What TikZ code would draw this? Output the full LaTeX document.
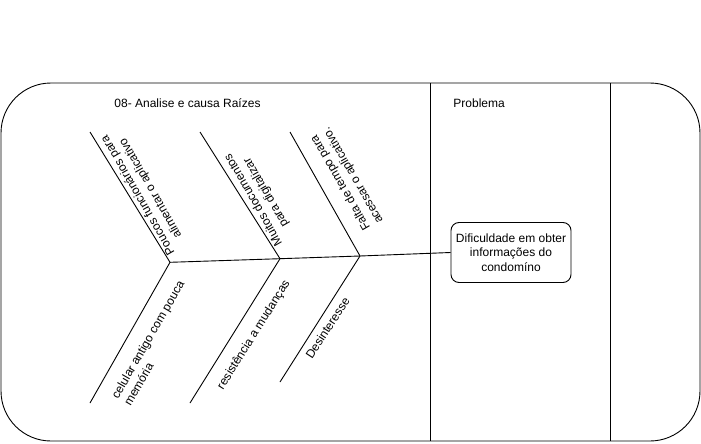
\documentclass[tikz,border=0pt]{standalone}
\usepackage{fontspec}
\setmainfont{Liberation Sans}
\usetikzlibrary{positioning}

\begin{document}
\begin{tikzpicture}[x=1pt,y=-1pt,line width=0.9pt]
      \tikzstyle{cause}=[inner sep=0pt,align=center,font=\fontsize{12}{14.5}\selectfont]
      \tikzstyle{problem}=[rectangle,rounded corners=8pt,draw=black,minimum width=120pt,minimum height=60pt,inner sep=0pt,align=center,font=\fontsize{12}{14.5}\selectfont]
      \tikzstyle{label}=[inner sep=0pt,anchor=west,font=\fontsize{12}{14.5}\selectfont]

      \useasboundingbox (0,0) rectangle (701,444);

      % frame and lanes
      \draw[rounded corners=50pt] (1,83) rectangle (700,441);
      \coordinate (lane1top) at (430,83);
      \coordinate (lane1bot) at (430,441);
      \coordinate (lane2top) at (610,83);
      \coordinate (lane2bot) at (610,441);
      \draw (lane1top) -- (lane1bot);
      \draw (lane2top) -- (lane2bot);

      \node[label](title) at (114,103) {08- Analise e causa Raízes};
      \node[label](head) at (453,103) {Problema};

      % head
      \node[problem](prob) at (511,252.5) {Dificuldade em obter\\informações do\\condomíno};

      % spine
      \coordinate (j1) at (170,262.3);
      \coordinate (j2) at (280,258.7);
      \coordinate (j3) at (360,256);
      \draw (j1) -- (j2) -- (j3) -- (prob.west);

      % bones
      \coordinate (u1) at (90,132);
      \coordinate (u2) at (200,132);
      \coordinate (u3) at (290,132);
      \coordinate (l1) at (90,403);
      \coordinate (l2) at (190,403);
      \coordinate (l3) at (280,382);
      \draw (u1) -- (j1) -- (l1);
      \draw (u2) -- (j2) -- (l2);
      \draw (u3) -- (j3) -- (l3);

      % causes
      \node[cause,rotate=120](c1) at (144.5,191.5) {Poucos funcionários para\\alimentar o aplicativo};
      \node[cause,rotate=120](c2) at (260,196) {Muitos documentos\\para digitalizar};
      \node[cause,rotate=120](c3) at (347,179) {Falta de tempo para\\acessar o aplicativo.};
      \node[cause,rotate=60,align=left](c4) at (154,343) {celular antigo com pouca\\memória};
      \node[cause,rotate=58](c5) at (254,335) {resistência a mudanças};
      \node[cause,rotate=57](c6) at (327.5,328) {Desinteresse};
\end{tikzpicture}
\end{document}
